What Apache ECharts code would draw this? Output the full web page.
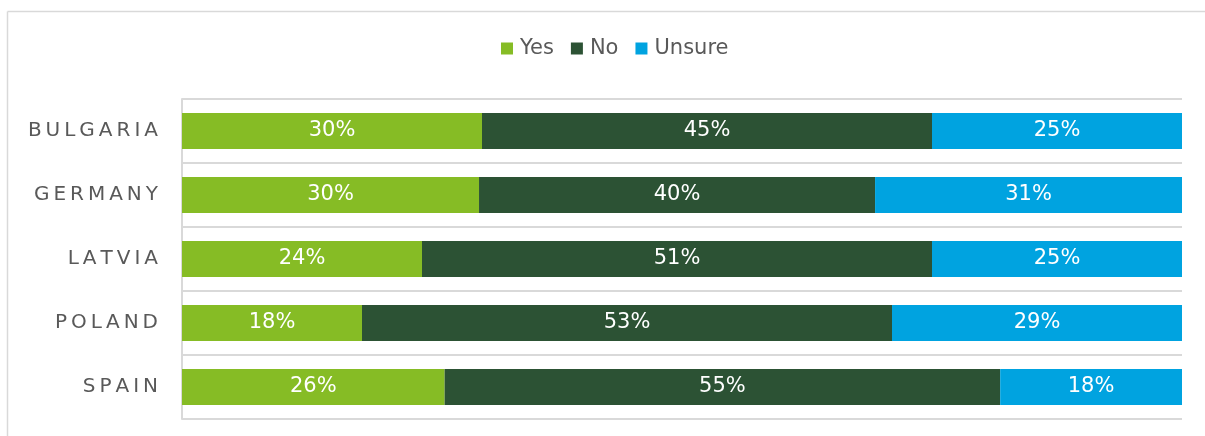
<!DOCTYPE html>
<html>
<head>
<meta charset="utf-8">
<script src="https://cdn.jsdelivr.net/npm/echarts@6/dist/echarts.min.js"></script>
<style>
  html, body { margin: 0; padding: 0; background: #ffffff; }
  #chart { width: 1205px; height: 436px; }
</style>
</head>
<body>
<div id="chart"></div>
<script>
// Survey answers by country (percent, as reported)
const countries = ['BULGARIA', 'GERMANY', 'LATVIA', 'POLAND', 'SPAIN'];
const yesValues = [30, 30, 24, 18, 26];
const noValues = [45, 40, 51, 53, 55];
const unsureValues = [25, 31, 25, 29, 18];

const seriesNames = ['Yes', 'No', 'Unsure'];
const seriesColors = ['#86BC25', '#2C5234', '#00A3E0'];

// Each row is drawn as a 100% stacked bar: shares are the reported
// values scaled by the row total, labels show the reported value.
const rawSets = [yesValues, noValues, unsureValues];
const totals = countries.map((_, i) => rawSets.reduce((s, arr) => s + arr[i], 0));

const textColor = '#595959';
const lineColor = '#D9D9D9';
const fontFamily = "'DejaVu Sans', Verdana, sans-serif";

// spaced-out capitals for the country names
const spaced = (s) => s.split('').join('\u2009');

const chart = echarts.init(document.getElementById('chart'), null, { renderer: 'canvas' });

chart.setOption({
  animation: false,
  backgroundColor: '#ffffff',
  graphic: [
    {
      type: 'line',
      shape: { x1: 7.5, y1: 11.5, x2: 1205, y2: 11.5 },
      style: { stroke: lineColor, lineWidth: 1.5 },
      silent: true,
      z: -10
    },
    {
      type: 'line',
      shape: { x1: 7.5, y1: 11.5, x2: 7.5, y2: 436 },
      style: { stroke: lineColor, lineWidth: 1.5 },
      silent: true,
      z: -10
    }
  ],
  legend: {
    data: seriesNames,
    left: 501,
    top: 38,
    padding: 0,
    itemWidth: 12,
    itemHeight: 12,
    itemGap: 17,
    icon: 'rect',
    textStyle: { color: textColor, fontSize: 21, fontFamily: fontFamily, padding: [0, 0, 0, 2] }
  },
  grid: { left: 182, right: 23, top: 99, bottom: 17, containLabel: false },
  xAxis: {
    type: 'value',
    min: 0,
    max: 100,
    show: false
  },
  yAxis: {
    type: 'category',
    data: countries,
    inverse: true,
    axisLine: { show: true, lineStyle: { color: lineColor, width: 2 } },
    axisTick: { show: false },
    splitLine: { show: true, lineStyle: { color: lineColor, width: 2 } },
    axisLabel: {
      color: textColor,
      fontSize: 20,
      fontFamily: fontFamily,
      margin: 24,
      formatter: spaced
    }
  },
  series: rawSets.map((arr, k) => ({
    name: seriesNames[k],
    type: 'bar',
    stack: 'total',
    barWidth: 36,
    itemStyle: { color: seriesColors[k] },
    label: {
      show: true,
      position: 'inside',
      color: '#ffffff',
      fontSize: 21,
      fontFamily: fontFamily,
      formatter: (p) => arr[p.dataIndex] + '%'
    },
    data: arr.map((v, i) => v / totals[i] * 100)
  }))
});
</script>
</body>
</html>
